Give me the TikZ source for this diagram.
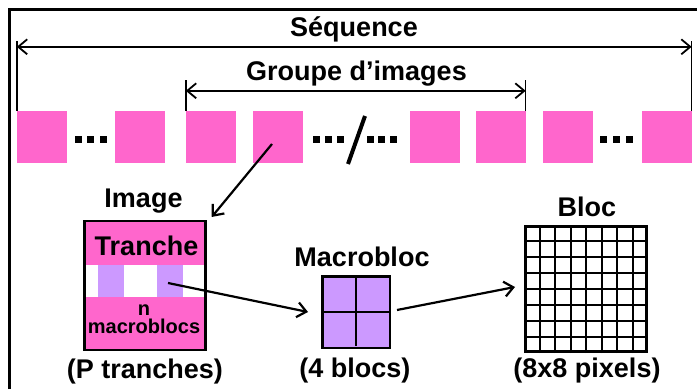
\documentclass[tikz,border=0pt]{standalone}
\usepackage{fontspec}
\setmainfont{Liberation Sans}
\usetikzlibrary{arrows.meta,calc}
\definecolor{pinkc}{RGB}{255,102,204}
\definecolor{purplec}{RGB}{204,153,255}
\begin{document}
\begin{tikzpicture}[x=1pt,y=1pt,
  frame/.style={fill=pinkc, draw=none, minimum width=50pt, minimum height=52pt, inner sep=0pt},
  lab/.style={font=\fontsize{27}{30}\selectfont\bfseries, inner sep=0pt},
  smalllab/.style={font=\fontsize{20}{17.5}\selectfont\bfseries, inner sep=0pt, align=center},
  tickline/.style={line width=1.5pt},
  dim/.style={line width=1.8pt, {Straight Barb[length=9pt,width=15pt]}-{Straight Barb[length=9pt,width=15pt]}},
  arr/.style={line width=2.2pt, -{Straight Barb[length=9pt,width=15pt]}},
  dotsq/.style={fill=black}
]
\useasboundingbox (0,0) rectangle (697,389);
% outer frame (top and left)
\draw[line width=3pt] (9,0) -- (9,379) -- (697,379);

% sequence of images
\node[frame] (s1) at (42,252) {};
\node[frame] (s2) at (140,252) {};
\node[frame] (s3) at (211,252) {};
\node[frame] (s4) at (278,252) {};
\node[frame] (s5) at (435,252) {};
\node[frame] (s6) at (500.5,252) {};
\node[frame] (s7) at (568,252) {};
\node[frame] (s8) at (666.5,252) {};

% dots
\foreach \x in {78,90.5,103,316,328,340,370,381.5,393,603,616,629}
  \fill[dotsq] (\x-3.5,245.5) rectangle ++(7,7);
\draw[line width=4pt] (365,273) -- (348,225);

% Sequence dimension
\draw[tickline] (s1.north west) -- ++(0,70) coordinate (sqL);
\draw[tickline] (s8.north east) -- ++(0,70) coordinate (sqR);
\draw[dim] ([yshift=-6pt]sqL) -- ([yshift=-6pt]sqR);
\node[lab, anchor=base] (seq) at (354,352) {Séquence};

% Group dimension
\draw[tickline] (s3.north west) -- ++(0,31) coordinate (grL);
\draw[tickline] (s6.north east) -- ++(0,31) coordinate (grR);
\draw[dim] ([yshift=-11pt]grL) -- ([yshift=-11pt]grR);
\node[lab, anchor=base] (grp) at (356.5,308) {Groupe d’images};

% Image box
\node[draw, line width=2.5pt, fill=pinkc, minimum width=121pt, minimum height=128.6pt, inner sep=0pt] (img) at (145,103.5) {};
\node[fill=white, minimum width=118.5pt, minimum height=32pt, inner sep=0pt] (band) at (145,108) {};
\node[fill=purplec, minimum width=26pt, minimum height=32pt, inner sep=0pt] (p1) at (111,108) {};
\node[fill=purplec, minimum width=26pt, minimum height=32pt, inner sep=0pt] (p2) at (170,108) {};
\node[lab, anchor=base] (tranche) at (146.5,133) {Tranche};
\node[smalllab] (mbs) at (144,70) {n\\macroblocs};
\node[lab, anchor=base] (imglab) at (143.5,181) {Image};
\node[lab, anchor=base] (ptr) at (145,11) {(P tranches)};

% Macrobloc
\node[draw, line width=2.5pt, fill=purplec, minimum width=67.5pt, minimum height=71.5pt, inner sep=0pt] (mb) at (356,77) {};
\draw[line width=2.5pt] ([yshift=-3pt]mb.north) -- ([yshift=3pt]mb.south);
\draw[line width=2.5pt] (mb.west) -- (mb.east);
\node[lab, anchor=base] (mblab) at (362,122) {Macrobloc};
\node[lab, anchor=base] (mbcap) at (355,12) {(4 blocs)};

% Bloc grid
\node[draw, line width=3pt, fill=white, minimum width=121pt, minimum height=125pt, inner sep=0pt] (blk) at (586,100) {};
\foreach \i in {1,...,7} {
  \draw[line width=2pt] ($(blk.south west)!\i/8!(blk.south east)$) -- ($(blk.north west)!\i/8!(blk.north east)$);
  \draw[line width=2pt] ($(blk.south west)!\i/8!(blk.north west)$) -- ($(blk.south east)!\i/8!(blk.north east)$);
}
\node[lab, anchor=base] (blklab) at (587,172) {Bloc};
\node[lab, anchor=base] (blkcap) at (587,12) {(8x8 pixels)};

% connectors
\draw[arr] ([shift={(-6pt,-7pt)}]s4.center) -- ([shift={(5pt,3pt)}]img.north east);
\draw[arr] ([shift={(-2pt,-2pt)}]p2.center) -- ([xshift=-13pt]mb.west);
\draw[arr] ([shift={(6pt,2pt)}]mb.east) -- ([shift={(-9pt,2pt)}]blk.west);
\end{tikzpicture}
\end{document}
